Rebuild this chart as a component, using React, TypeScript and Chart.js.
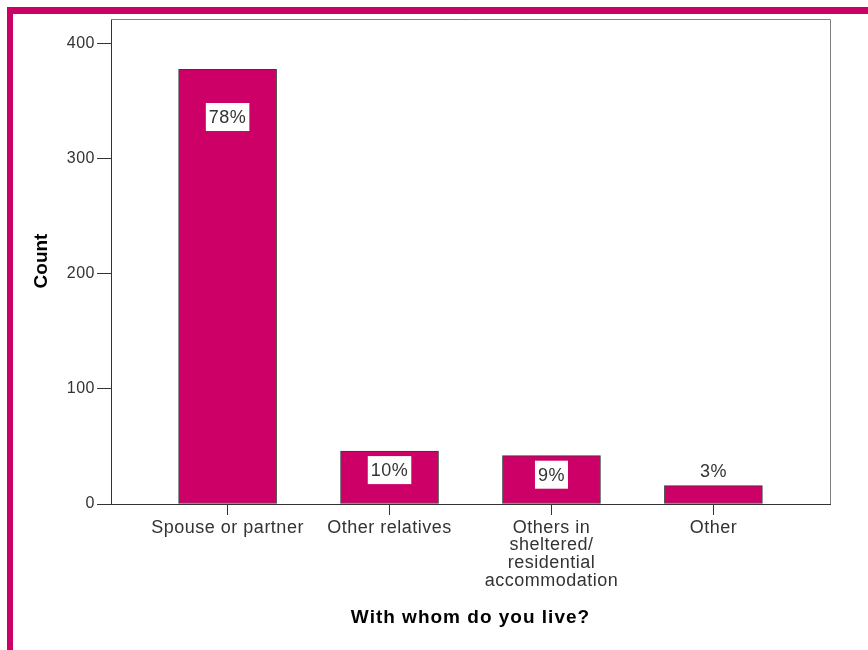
import React, { useEffect, useRef } from 'react';
import { Chart, registerables } from 'chart.js';

Chart.register(...registerables);

const categories: string[][] = [
  ['Spouse or partner'],
  ['Other relatives'],
  ['Others in', 'sheltered/', 'residential', 'accommodation'],
  ['Other'],
];
const counts = [378, 46, 42, 16];
const percentLabels = ['78%', '10%', '9%', '3%'];
const yTicks = [0, 100, 200, 300, 400];
const xTitle = 'With whom do you live?';
const yTitle = 'Count';

const MAGENTA = '#CC0066';
const TEXT = '#333333';
const FONT = '"Liberation Sans", Arial, sans-serif';

export default function App() {
  const ref = useRef<HTMLCanvasElement | null>(null);

  useEffect(() => {
    document.body.style.margin = '0';
    document.body.style.overflow = 'hidden';
    const canvas = ref.current!;

    const spacingPlugin = {
      id: 'spacing',
      beforeUpdate(chart: any) {
        (chart.ctx as any).letterSpacing = '0.5px';
      },
      beforeDraw(chart: any) {
        const ctx = chart.ctx;
        (ctx as any).letterSpacing = '0.5px';
        ctx.save();
        ctx.fillStyle = '#ffffff';
        ctx.fillRect(0, 0, chart.width, chart.height);
        ctx.fillStyle = MAGENTA;
        ctx.fillRect(7, 7, 6, chart.height);
        ctx.fillRect(7, 7, chart.width, 7);
        ctx.restore();
      },
    };

    const framePlugin = {
      id: 'frame',
      beforeDatasetsDraw(chart: any) {
        const { ctx, chartArea: a } = chart;
        ctx.save();
        ctx.strokeStyle = '#808080';
        ctx.lineWidth = 1;
        ctx.beginPath();
        ctx.moveTo(a.left, a.top + 0.5);
        ctx.lineTo(a.right + 0.5, a.top + 0.5);
        ctx.lineTo(a.right + 0.5, a.bottom);
        ctx.stroke();
        ctx.restore();
      },
      afterDatasetsDraw(chart: any) {
        const { ctx } = chart;
        const meta = chart.getDatasetMeta(0);
        ctx.save();
        ctx.font = `18px ${FONT}`;
        (ctx as any).letterSpacing = '0.5px';
        ctx.textAlign = 'center';
        ctx.textBaseline = 'middle';
        meta.data.forEach((el: any, i: number) => {
          const top = el.y;
          const h = el.base - el.y;
          let cy: number;
          if (h > 30) {
            cy = top + Math.max(19, Math.min(48, h * 0.11));
          } else {
            cy = top - 15;
          }
          const txt = percentLabels[i];
          const w = ctx.measureText(txt).width + 6;
          ctx.fillStyle = '#ffffff';
          ctx.fillRect(el.x - w / 2, cy - 14, w, 28);
          ctx.fillStyle = TEXT;
          ctx.fillText(txt, el.x, cy + 1);
        });
        ctx.restore();
      },
      afterDraw(chart: any) {
        const { ctx, chartArea: a } = chart;
        ctx.save();
        ctx.fillStyle = '#000000';
        ctx.font = `bold 19px ${FONT}`;
        ctx.textAlign = 'center';
        ctx.textBaseline = 'middle';
        (ctx as any).letterSpacing = '1px';
        ctx.fillText(xTitle, (a.left + a.right) / 2, 618);
        (ctx as any).letterSpacing = '0px';
        ctx.translate(42, 261);
        ctx.rotate(-Math.PI / 2);
        ctx.fillText(yTitle, 0, 0);
        ctx.restore();
      },
    };

    const chart = new Chart(canvas, {
      type: 'bar',
      data: {
        datasets: [
          {
            data: counts.map((c, i) => ({ x: i, y: c })),
            backgroundColor: MAGENTA,
            borderColor: '#3a3a3a',
            borderWidth: 1,
            borderSkipped: false,
            barThickness: 98,
          },
        ],
      },
      options: {
        responsive: false,
        animation: false,
        events: [],
        layout: { padding: { left: 0, right: 38, top: 19, bottom: 0 } },
        plugins: {
          legend: { display: false },
          tooltip: { enabled: false },
          title: { display: false },
        },
        scales: {
          x: {
            type: 'linear',
            min: -0.72,
            max: 3.72,
            offset: false,
            afterBuildTicks(s: any) {
              s.ticks = [0, 1, 2, 3].map((v) => ({ value: v }));
            },
            afterFit(s: any) {
              s.height = 146;
            },
            grid: {
              display: true,
              offset: false,
              drawOnChartArea: false,
              drawTicks: true,
              tickLength: 11,
              color: '#333333',
            },
            border: { display: true, color: '#333333', width: 1 },
            ticks: {
              autoSkip: false,
              maxRotation: 0,
              minRotation: 0,
              padding: 4,
              color: TEXT,
              font: { family: FONT, size: 18, lineHeight: 0.98 },
              callback: (v: any) => categories[Math.round(Number(v))] ?? '',
            },
          },
          y: {
            type: 'linear',
            min: 0,
            max: 421.7,
            afterBuildTicks(s: any) {
              s.ticks = yTicks.map((v) => ({ value: v }));
            },
            afterFit(s: any) {
              s.width = 111;
            },
            grid: {
              display: true,
              drawOnChartArea: false,
              drawTicks: true,
              tickLength: 14,
              color: '#333333',
            },
            border: { display: true, color: '#333333', width: 1 },
            ticks: {
              padding: 2,
              color: TEXT,
              font: { family: FONT, size: 16 },
              callback: (v: any) => String(v),
            },
          },
        },
      },
      plugins: [spacingPlugin, framePlugin],
    } as any);

    return () => chart.destroy();
  }, []);

  return (
    <div style={{ width: 868, height: 650, position: 'relative' }}>
      <canvas ref={ref} width={868} height={650} style={{ display: 'block', width: 868, height: 650 }} />
    </div>
  );
}
